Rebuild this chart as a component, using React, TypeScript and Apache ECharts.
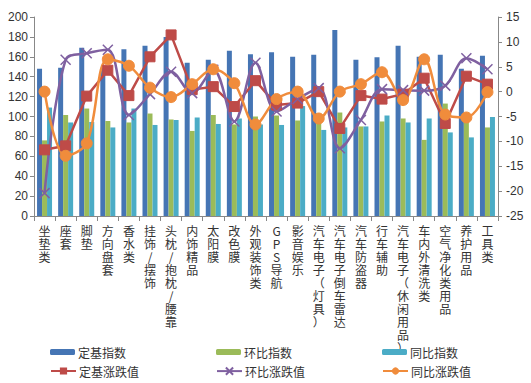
import React, { useEffect, useRef } from "react";
import * as echarts from "echarts";

const categories = [
  "坐垫类", "座套", "脚垫", "方向盘套", "香水类", "挂饰/摆饰", "头枕/抱枕/腰靠", "内饰精品",
  "太阳膜", "改色膜", "外观装饰类", "GPS导航", "影音娱乐", "汽车电子（灯具）", "汽车电子倒车雷达",
  "汽车防盗器", "行车辅助", "汽车电子（休闲用品）", "车内外清洗类", "空气净化类用品", "养护用品", "工具类",
];

const baseIndex = [148, 149, 169, 149, 167.5, 171, 180, 154, 157, 166, 162.5, 164.5, 160, 162, 187, 157, 159.5, 171, 160, 162, 148, 161];
const momIndex = [76, 101.5, 108, 95.5, 94, 103, 97, 85.5, 101.5, 92, 100, 101, 96, 103, 104, 90, 95, 98, 76.5, 113, 96, 89];
const yoyIndex = [109, 94, 94.5, 89, 108, 91.5, 96.5, 99, 92.5, 98, 92, 91.5, 110.5, 86.5, 89, 90, 101, 94, 98, 84, 79, 99.5];

const baseChange = [-11.7, -10.9, -0.9, 4.3, -0.8, 7.0, 11.4, 0.4, 1.0, -3.0, 2.2, -2.7, -2.3, 0.0, -7.4, -0.8, -1.5, -0.5, 2.7, -6.4, 3.1, 1.5];
const momChange = [-20.4, 6.4, 7.7, 8.4, -4.7, -0.5, 4.0, -0.3, 4.4, -6.0, 5.8, -4.0, -1.5, 0.7, -11.4, -5.7, 0.5, 0.3, 0.2, 1.2, 6.7, 4.5];
const yoyChange = [0.0, -12.9, -10.4, 6.5, 5.2, 0.8, -1.1, 1.5, 4.5, 1.7, -6.6, -1.5, 0.0, -5.4, 0.0, 1.5, 3.9, -1.7, 6.5, -4.6, -5.2, -0.1];

const leftTicks = { min: 0, max: 200, interval: 20 };
const rightTicks = { min: -25, max: 15, interval: 5 };

const seriesNames = ["定基指数", "环比指数", "同比指数", "定基涨跌值", "环比涨跌值", "同比涨跌值"];
const colors = ["#4575B4", "#9BBB59", "#4BACC6", "#BE4B48", "#7F60A0", "#F08C3C"];

const FONT = "'Noto Sans CJK SC', 'Liberation Sans', sans-serif";

function verticalLabel(name: string): string {
  return name.split("").join("\n");
}

export default function App() {
  const ref = useRef<HTMLDivElement>(null);
  useEffect(() => {
    if (!ref.current) return;
    const chart = echarts.init(ref.current, null, { renderer: "svg" });
    const legendPos = [
      { left: 50, top: 346 },
      { left: 216, top: 346 },
      { left: 382, top: 346 },
      { left: 50, top: 365 },
      { left: 216, top: 365 },
      { left: 382, top: 365 },
    ];
    const legends = seriesNames.map((n, i) => ({
      data: [n],
      left: legendPos[i].left,
      top: legendPos[i].top,
      itemWidth: 25,
      itemHeight: i < 3 ? 6 : 9,
      itemGap: 0,
      padding: 0,
      textStyle: { fontSize: 12, color: "#333", fontFamily: FONT, padding: [0, 0, 0, -2] },
    }));
    const data = [baseIndex, momIndex, yoyIndex];
    const lines = [baseChange, momChange, yoyChange];
    const symbols = ["rect", "path://M0,0 L10,10 M10,0 L0,10", "circle"];
    const symbolSizes = [10, 10, 11];
    chart.setOption({
      animation: false,
      color: colors,
      textStyle: { fontFamily: FONT },
      legend: legends,
      grid: { left: 34, right: 33, top: 17, bottom: 167, containLabel: false },
      xAxis: {
        type: "category",
        data: categories,
        axisLine: { lineStyle: { color: "#888" } },
        axisTick: { show: true, alignWithLabel: false, length: 5, lineStyle: { color: "#888" } },
        axisLabel: {
          interval: 0,
          formatter: (v: string) => (v === "GPS导航" ? "G\nP\nS\n导\n航" : verticalLabel(v)),
          fontSize: 12,
          lineHeight: 13,
          color: "#333",
          margin: 8,
          fontFamily: FONT,
          verticalAlign: "top",
        },
      },
      yAxis: [
        {
          type: "value",
          ...leftTicks,
          splitLine: { show: false },
          axisLine: { show: true, lineStyle: { color: "#888" } },
          axisTick: { show: true, length: 4, lineStyle: { color: "#888" } },
          axisLabel: { fontSize: 12, color: "#333", margin: 6, fontFamily: "'Liberation Sans', sans-serif" },
        },
        {
          type: "value",
          ...rightTicks,
          splitLine: { show: false },
          axisLine: { show: true, lineStyle: { color: "#888" } },
          axisTick: { show: true, length: 4, lineStyle: { color: "#888" } },
          axisLabel: { fontSize: 12, color: "#333", margin: 8, fontFamily: "'Liberation Sans', sans-serif" },
        },
      ],
      series: [
        ...data.map((d, i) => ({
          name: seriesNames[i],
          type: "bar",
          yAxisIndex: 0,
          data: d,
          barWidth: 5,
          barGap: "0%",
          itemStyle: { color: colors[i] },
        })),
        ...lines.map((d, i) => ({
          name: seriesNames[i + 3],
          type: "line",
          yAxisIndex: 1,
          data: d,
          smooth: i === 0 ? false : 0.35,
          symbol: symbols[i],
          symbolSize: symbolSizes[i],
          lineStyle: { width: 2.5, color: colors[i + 3] },
          itemStyle: i === 1
            ? { color: "none", borderColor: colors[i + 3], borderWidth: 1.5 }
            : { color: colors[i + 3], borderColor: colors[i + 3] },
          z: 3,
        })),
      ],
    });
    return () => chart.dispose();
  }, []);
  return (
    <div style={{ position: "absolute", left: 0, top: 0, width: 531, height: 383, background: "#fff" }}>
      <div ref={ref} style={{ width: 531, height: 383 }} />
    </div>
  );
}
